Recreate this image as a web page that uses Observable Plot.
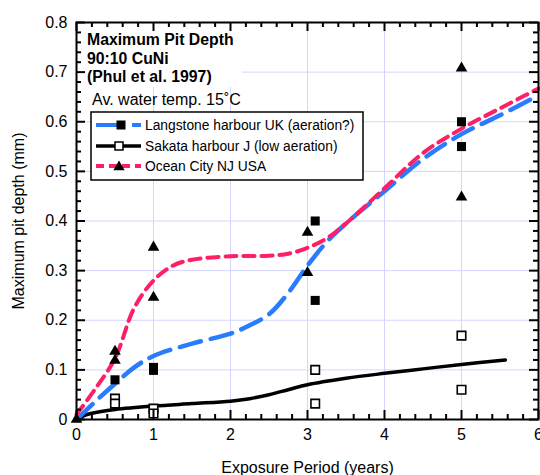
<!DOCTYPE html>
<html><head><meta charset="utf-8">
<script src="https://cdn.jsdelivr.net/npm/d3@7"></script>
<script src="https://cdn.jsdelivr.net/npm/@observablehq/plot@0.6"></script>
<style>
body{margin:0;background:#fff;}
</style></head><body><div id="wrap"></div>
<script>
// ---- data ----
const seriesNames = ["Langstone harbour UK (aeration?)", "Sakata harbour J (low aeration)", "Ocean City NJ USA"];
const titleLines = ["Maximum Pit Depth", "90:10 CuNi", "(Phul et al. 1997)"];
const noteText = "Av. water temp. 15˚C";
const xLabel = "Exposure Period (years)";
const yLabel = "Maximum pit depth (mm)";
const xTicks = [0, 1, 2, 3, 4, 5, 6];
const yTicks = [0, 0.1, 0.2, 0.3, 0.4, 0.5, 0.6, 0.7, 0.8];
const yTickLabels = ["0", "0.1", "0.2", "0.3", "0.4", "0.5", "0.6", "0.7", "0.8"];
const xMinor = [0.2,0.4,0.6,0.8,1.2,1.4,1.6,1.8,2.2,2.4,2.6,2.8,3.2,3.4,3.6,3.8,4.2,4.4,4.6,4.8,5.2,5.4,5.6,5.8];
const yMinor = [0.02,0.04,0.06,0.08,0.12,0.14,0.16,0.18,0.22,0.24,0.26,0.28,0.32,0.34,0.36,0.38,0.42,0.44,0.46,0.48,0.52,0.54,0.56,0.58,0.62,0.64,0.66,0.68,0.72,0.74,0.76,0.78];

// measured points
const langstoneX = [0.5, 1, 1, 3.1, 3.1, 5, 5];
const langstoneY = [0.08, 0.105, 0.099, 0.40, 0.24, 0.60, 0.55];
const sakataX = [0.5, 0.5, 1, 1, 3.1, 3.1, 5, 5];
const sakataY = [0.042, 0.032, 0.022, 0.012, 0.10, 0.032, 0.169, 0.06];
const oceanX = [0, 0.5, 0.5, 1, 1, 3, 3, 5, 5];
const oceanY = [0, 0.137, 0.119, 0.347, 0.246, 0.377, 0.296, 0.708, 0.448];

// fitted curves
const langstoneFitX = [0, 0.25, 0.5, 0.75, 1, 1.5, 2, 2.25, 2.5, 2.75, 3, 3.25, 3.5, 4, 4.5, 5, 5.5, 6];
const langstoneFitY = [0, 0.037, 0.072, 0.105, 0.128, 0.153, 0.173, 0.19, 0.212, 0.255, 0.31, 0.358, 0.395, 0.46, 0.525, 0.575, 0.613, 0.653];
const sakataFitX = [0, 0.1, 0.25, 0.5, 1, 1.5, 2, 2.25, 2.5, 2.75, 3, 3.5, 4, 4.5, 5, 5.57];
const sakataFitY = [0, 0.008, 0.014, 0.02, 0.027, 0.032, 0.037, 0.042, 0.05, 0.06, 0.07, 0.083, 0.093, 0.102, 0.111, 0.12];
const oceanFitX = [0, 0.25, 0.5, 0.75, 1, 1.25, 1.5, 2, 2.5, 2.75, 3, 3.25, 3.5, 4, 4.5, 5, 5.5, 6];
const oceanFitY = [0.01, 0.063, 0.123, 0.225, 0.28, 0.31, 0.322, 0.329, 0.33, 0.334, 0.346, 0.365, 0.395, 0.466, 0.537, 0.586, 0.627, 0.667];

const colors = {langstone: "#2a7cff", sakata: "#000000", ocean: "#ff1f66"};

const zip = (xs, ys) => xs.map((x, i) => ({x, y: ys[i]}));

const W = 540, H = 475, ML = 76, MR = 2, MT = 22, MB = 56;
const FW = W - ML - MR, FH = H - MT - MB;
const major = 9, minor = 5;
const tickStyle = {stroke: "#000", strokeWidth: 2, strokeOpacity: 1};

const plot = Plot.plot({
  width: W, height: H,
  marginLeft: ML, marginRight: MR, marginTop: MT, marginBottom: MB,
  style: {fontFamily: '"Liberation Sans", Arial, Helvetica, sans-serif', fontSize: "16px"},
  x: {domain: [0, 6]},
  y: {domain: [0, 0.8]},
  marks: [
    Plot.gridX(xTicks, {stroke: "#d4d4ff", strokeOpacity: 1, strokeWidth: 1}),
    Plot.gridY(yTicks, {stroke: "#d4d4ff", strokeOpacity: 1, strokeWidth: 1}),
    Plot.line(zip(sakataFitX, sakataFitY), {x: "x", y: "y", curve: "catmull-rom", stroke: colors.sakata, strokeWidth: 3.5}),
    Plot.line(zip(langstoneFitX, langstoneFitY), {x: "x", y: "y", curve: "catmull-rom", stroke: colors.langstone, strokeWidth: 4.5, strokeDasharray: "22,10"}),
    Plot.line(zip(oceanFitX, oceanFitY), {x: "x", y: "y", curve: "catmull-rom", stroke: colors.ocean, strokeWidth: 4, strokeDasharray: "11,7"}),
    Plot.dot(zip(sakataX, sakataY), {x: "x", y: "y", symbol: "square", r: 4.8, fill: "white", stroke: "black", strokeWidth: 1.6}),
    Plot.dot(zip(langstoneX, langstoneY), {x: "x", y: "y", symbol: "square", r: 5.1, fill: "black", stroke: "none"}),
    Plot.dot(zip(oceanX, oceanY), {x: "x", y: "y", symbol: "triangle", r: 4.3, fill: "black", stroke: "none"}),
    // inward ticks on all four sides
    Plot.tickX(xTicks, {x: d => d, insetTop: FH - major, ...tickStyle}),
    Plot.tickX(xMinor, {x: d => d, insetTop: FH - minor, ...tickStyle}),
    Plot.tickX(xTicks, {x: d => d, insetBottom: FH - major, ...tickStyle}),
    Plot.tickX(xMinor, {x: d => d, insetBottom: FH - minor, ...tickStyle}),
    Plot.tickY(yTicks, {y: d => d, insetRight: FW - major, ...tickStyle}),
    Plot.tickY(yMinor, {y: d => d, insetRight: FW - minor, ...tickStyle}),
    Plot.tickY(yTicks, {y: d => d, insetLeft: FW - major, ...tickStyle}),
    Plot.tickY(yMinor, {y: d => d, insetLeft: FW - minor, ...tickStyle}),
    Plot.frame({stroke: "black", strokeWidth: 2}),
    // tick labels and axis titles
    Plot.axisX(xTicks, {anchor: "bottom", tickSize: 0, tickPadding: 9, fontSize: 16, label: xLabel, labelAnchor: "center", labelOffset: 53, labelArrow: "none"}),
    Plot.axisY(yTicks, {anchor: "left", tickSize: 0, tickPadding: 9, fontSize: 16, tickFormat: (d, i) => yTickLabels[i], label: yLabel, labelAnchor: "center", labelOffset: 64, labelArrow: "none"})
  ]
});
document.getElementById("wrap").appendChild(plot);

// title block and legend, drawn into the same SVG
const svg = d3.select(plot);
const ov = svg.append("g").attr("font-family", '"Liberation Sans", Arial, Helvetica, sans-serif').attr("text-anchor", "start");

ov.append("rect").attr("x", 85).attr("y", 31).attr("width", 157).attr("height", 56).attr("fill", "white");
titleLines.forEach((t, i) => {
  ov.append("text").attr("x", 87).attr("y", 45 + i * 18.5).attr("font-size", 15.8).attr("font-weight", "bold").text(t);
});
ov.append("text").attr("x", 92).attr("y", 105).attr("font-size", 16).text(noteText);

const lg = ov.append("g");
lg.append("rect").attr("x", 91).attr("y", 112).attr("width", 272).attr("height", 68)
  .attr("fill", "white").attr("stroke", "black").attr("stroke-width", 1.5);
const rowY = [125, 146, 166];
// Langstone
lg.append("line").attr("x1", 96).attr("x2", 117).attr("y1", rowY[0]).attr("y2", rowY[0]).attr("stroke", colors.langstone).attr("stroke-width", 4);
lg.append("line").attr("x1", 132).attr("x2", 141).attr("y1", rowY[0]).attr("y2", rowY[0]).attr("stroke", colors.langstone).attr("stroke-width", 4);
lg.append("rect").attr("x", 116.5).attr("y", rowY[0] - 4.5).attr("width", 9).attr("height", 9).attr("fill", "black");
// Sakata
lg.append("line").attr("x1", 96).attr("x2", 141).attr("y1", rowY[1]).attr("y2", rowY[1]).attr("stroke", colors.sakata).attr("stroke-width", 3.5);
lg.append("rect").attr("x", 115).attr("y", rowY[1] - 4).attr("width", 8).attr("height", 8).attr("fill", "white").attr("stroke", "black").attr("stroke-width", 1.5);
// Ocean
lg.append("line").attr("x1", 96).attr("x2", 141).attr("y1", rowY[2]).attr("y2", rowY[2]).attr("stroke", colors.ocean).attr("stroke-width", 4).attr("stroke-dasharray", "8,5");
lg.append("path").attr("d", d3.symbol(d3.symbolTriangle, 55)()).attr("transform", `translate(119,${rowY[2] + 1})`).attr("fill", "black");
seriesNames.forEach((t, i) => {
  lg.append("text").attr("x", 145).attr("y", rowY[i]).attr("dy", "0.36em").attr("font-size", 13.8).text(t);
});
</script></body></html>
